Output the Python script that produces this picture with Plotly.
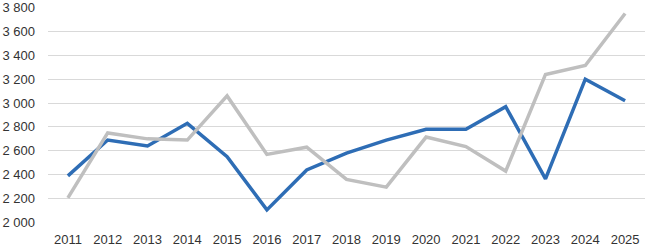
import plotly.graph_objects as go

years = [str(y) for y in range(2011, 2026)]
blue = [2390, 2690, 2640, 2830, 2550, 2105, 2440, 2580, 2690, 2780, 2780, 2970, 2365, 3200, 3020]
grey = [2205, 2750, 2700, 2690, 3060, 2570, 2630, 2360, 2295, 2715, 2635, 2430, 3240, 3315, 3750]
ytick_vals = list(range(2000, 3801, 200))

fig = go.Figure()
fig.add_trace(go.Scatter(x=years, y=blue, mode="lines", line=dict(color="#2E6DB5", width=3.5), showlegend=False))
fig.add_trace(go.Scatter(x=years, y=grey, mode="lines", line=dict(color="#BFBFBF", width=3.5), showlegend=False))

fig.update_layout(
    width=647, height=247,
    margin=dict(l=48, r=2, t=7, b=24),
    plot_bgcolor="white", paper_bgcolor="white",
    separators=", ",
    font=dict(family="Liberation Sans", size=13, color="#333333"),
    xaxis=dict(type="category", showgrid=False, showline=False, ticks="",
               tickfont=dict(size=13), range=[-0.5, 14.5], automargin=False,
               ticklabelstandoff=7, ticklabeloverflow="allow"),
    yaxis=dict(range=[1995, 3805], tickmode="array", tickvals=ytick_vals,
               ticktext=[f"{v//1000} {v%1000:03d}" for v in ytick_vals],
               showgrid=True, gridcolor="#D9D9D9", gridwidth=1, zeroline=False,
               ticks="", ticklabelstandoff=12, ticklabeloverflow="allow",
               automargin=False, tickfont=dict(size=13)),
)
fig.write_html("out.html", config={"displayModeBar": False},
               post_script="document.body.style.margin='0';")
